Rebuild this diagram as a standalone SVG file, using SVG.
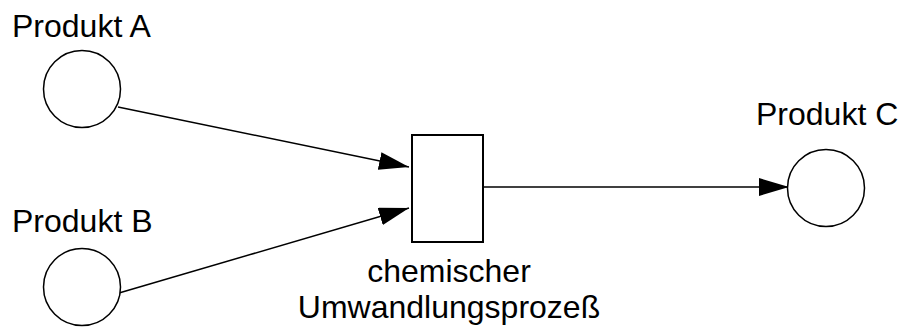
<svg xmlns="http://www.w3.org/2000/svg" width="898" height="327" viewBox="0 0 898 327">
<style>
.node{fill:#fff;stroke:#000;stroke-width:1.5}
.box{fill:#fff;stroke:#000;stroke-width:2}
.lbl{font-family:"Liberation Sans",Arial,sans-serif;font-size:32px;fill:#000}
.edge{fill:none;stroke:#000;stroke-width:1.5;marker-end:url(#arr)}
</style>
<defs>
<marker id="arr" markerUnits="userSpaceOnUse" viewBox="0 0 30 18" refX="30" refY="9" markerWidth="30" markerHeight="18" orient="auto">
<path d="M0,0 L30,9 L0,18 Z" fill="#000"/>
</marker>
</defs>
<rect width="898" height="327" fill="#fff"/>
<g id="connectors">
<line class="edge" x1="118" y1="107" x2="409" y2="167"/>
<line class="edge" x1="119" y1="293" x2="409" y2="208"/>
<line class="edge" x1="483" y1="187" x2="789" y2="187"/>
</g>
<g id="produktA">
<circle class="node" cx="82" cy="89" r="38.5"/>
<text class="lbl" x="12" y="37">Produkt A</text>
</g>
<g id="produktB">
<circle class="node" cx="82" cy="287" r="38.5"/>
<text class="lbl" x="12" y="232">Produkt B</text>
</g>
<g id="produktC">
<circle class="node" cx="826" cy="188" r="38.5"/>
<text class="lbl" x="756" y="125">Produkt C</text>
</g>
<g id="prozess">
<rect class="box" x="412" y="135" width="71" height="107"/>
<text class="lbl" text-anchor="middle" x="449" y="282">chemischer</text>
<text class="lbl" text-anchor="middle" x="449" y="318">Umwandlungsprozeß</text>
</g>
</svg>
